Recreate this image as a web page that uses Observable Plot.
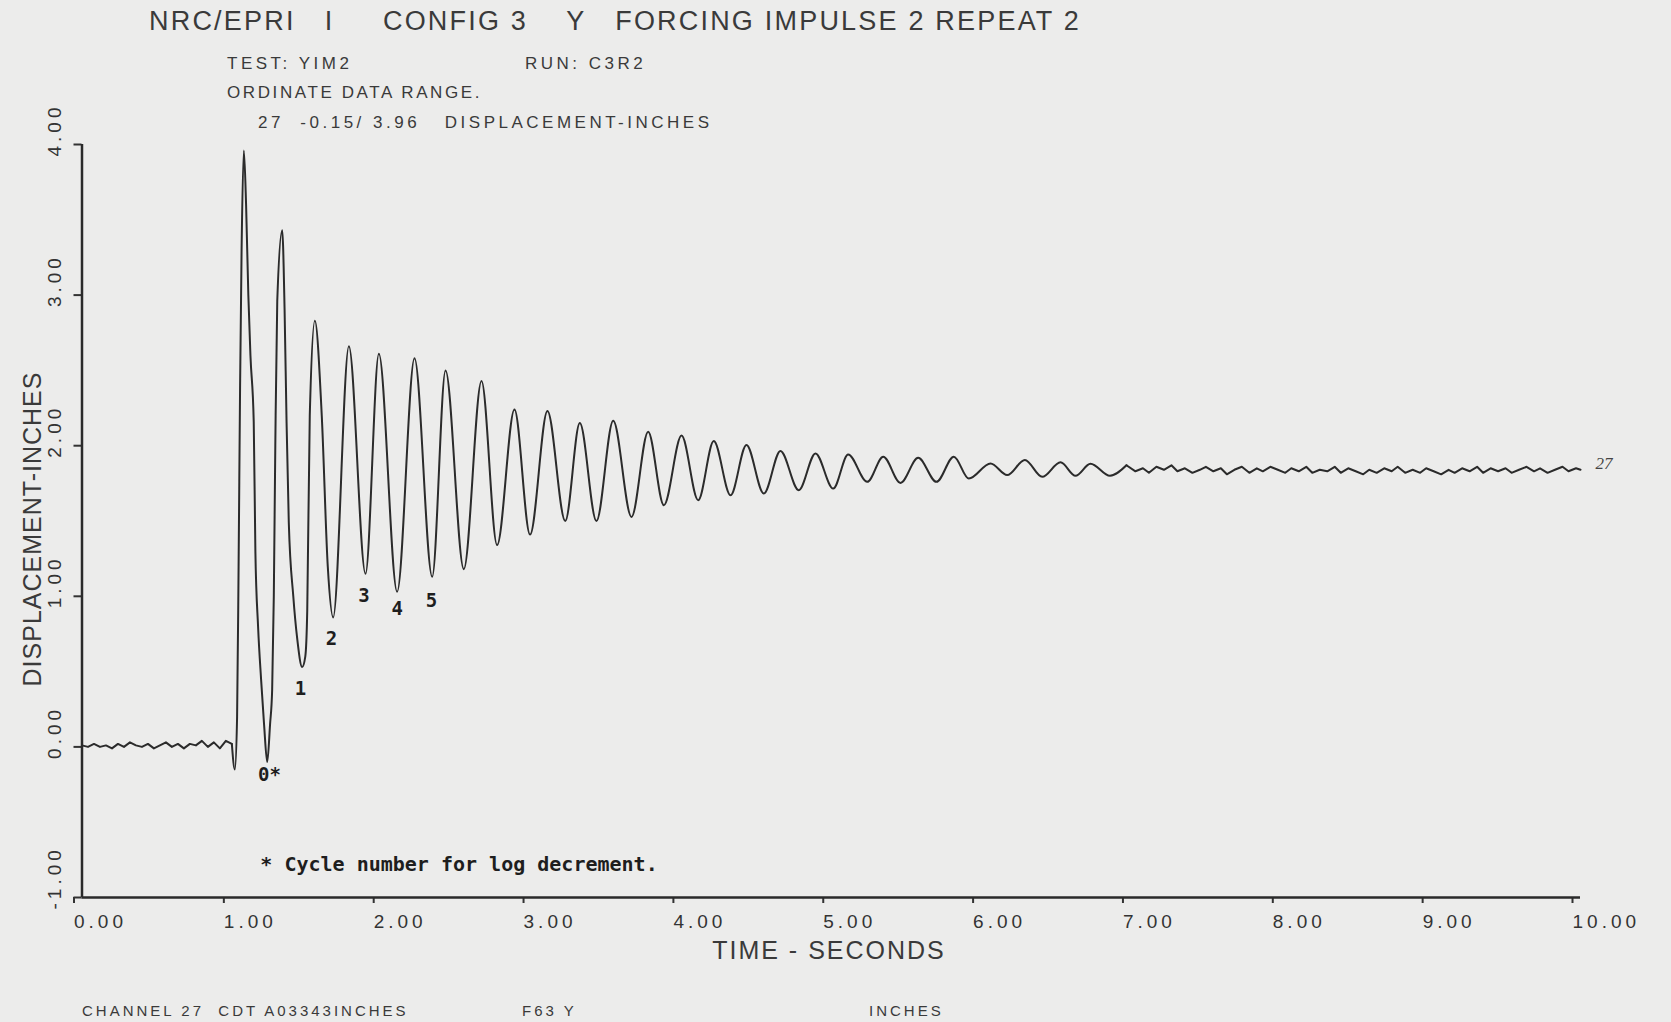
<!DOCTYPE html>
<html>
<head>
<meta charset="utf-8">
<script src="https://cdn.jsdelivr.net/npm/d3@7"></script>
<script src="https://cdn.jsdelivr.net/npm/@observablehq/plot@0.6"></script>
<style>
  html, body { margin: 0; padding: 0; background: #ececeb; }
  #page { position: relative; width: 1671px; height: 1022px; overflow: hidden; background: #ececeb;
          font-family: "Liberation Sans", Arial, sans-serif; color: #3a3a3a; }
  .t { position: absolute; white-space: pre; line-height: 1; }
  #chart { position: absolute; left: 0; top: 0; }
  g[aria-label="x-axis tick label"] text, g[aria-label="y-axis tick label"] text { letter-spacing: 4px; }
</style>
</head>
<body>
<div id="page">
  <div id="chart"></div>
  <div class="t" style="left:149px;top:8px;font-size:27px;letter-spacing:2.2px;">NRC/EPRI   I     CONFIG 3    Y   FORCING IMPULSE 2 REPEAT 2</div>
  <div class="t" style="left:227px;top:55px;font-size:17px;letter-spacing:3.5px;">TEST: YIM2</div>
  <div class="t" style="left:525px;top:55px;font-size:17px;letter-spacing:3.5px;">RUN: C3R2</div>
  <div class="t" style="left:227px;top:84px;font-size:17px;letter-spacing:2.6px;">ORDINATE DATA RANGE.</div>
  <div class="t" style="left:258px;top:114px;font-size:17px;letter-spacing:3.5px;">27  -0.15/ 3.96   DISPLACEMENT-INCHES</div>
  <div class="t" style="left:32px;top:529px;font-size:25px;letter-spacing:1px;transform:translate(-50%,-50%) rotate(-90deg);">DISPLACEMENT-INCHES</div>
  <div class="t" style="left:829px;top:950px;font-size:25px;letter-spacing:2px;transform:translate(-50%,-50%);">TIME - SECONDS</div>
  <div class="t" style="left:82px;top:1003px;font-size:15px;letter-spacing:3px;">CHANNEL 27  CDT A03343INCHES</div>
  <div class="t" style="left:522px;top:1003px;font-size:15px;letter-spacing:3px;">F63 Y</div>
  <div class="t" style="left:869px;top:1003px;font-size:15px;letter-spacing:3px;">INCHES</div>
</div>
<script>
// ---- data ----
const time = [
  0.00,0.04,0.08,0.12,0.16,0.20,0.24,0.28,0.32,0.36,0.40,0.44,0.48,0.52,0.56,0.60,0.64,0.68,0.72,0.76,0.80,0.84,0.88,0.92,0.96,1.00,
  1.02,1.035,1.045,1.055,1.065,1.08,1.095,1.11,1.124,1.146,1.157,1.175,1.195,1.215,1.236,
  1.255,1.269,1.28,1.29,1.303,1.336,1.352,1.365,1.38,1.41,1.436,1.469,
  1.49,1.503,1.52,1.554,1.60,1.64,1.676,
  1.781,1.892,1.981,2.103,2.219,2.337,2.426,2.548,2.666,2.77,2.886,2.99,3.106,3.225,
  3.322,3.433,3.545,3.667,3.778,3.883,4.001,4.112,4.216,4.328,4.434,4.55,4.661,4.783,
  4.895,5.013,5.113,5.24,5.347,5.462,5.58,5.702,5.818,5.918,6.063,6.174,6.292,6.408,
  6.53,6.63,6.73,6.86,6.97,
  7.03,7.08,7.12,7.17,7.22,7.27,7.31,7.36,7.41,7.46,7.50,7.55,7.60,7.64,7.69,7.74,7.79,7.84,7.88,7.93,7.98,
  8.03,8.07,8.12,8.17,8.21,8.26,8.31,8.36,8.40,8.45,8.50,8.55,8.59,8.64,8.69,8.74,8.78,8.83,8.88,8.93,8.97,
  9.02,9.07,9.12,9.16,9.21,9.26,9.31,9.35,9.40,9.45,9.50,9.54,9.59,9.64,9.69,9.73,9.78,9.83,9.88,9.92,9.97,10.00
];
const displacement = [
  0.01,0.00,0.02,0.00,0.01,-0.01,0.02,0.00,0.03,0.01,0.00,0.02,-0.01,0.01,0.03,0.00,0.02,-0.01,0.02,0.01,0.04,0.00,0.03,-0.01,0.04,0.02,
  -0.15,0.20,1.20,2.40,3.30,3.96,3.60,3.00,2.60,2.16,1.30,0.80,0.45,0.15,-0.10,
  0.15,0.38,1.00,2.00,2.96,3.43,2.90,2.16,1.49,1.00,0.72,0.53,
  0.60,0.90,2.20,2.83,2.20,1.20,0.86,
  2.66,1.15,2.61,1.03,2.58,1.13,2.50,1.18,2.43,1.34,2.24,1.41,2.23,1.50,
  2.15,1.50,2.165,1.527,2.093,1.605,2.067,1.638,2.031,1.671,2.005,1.682,1.965,1.705,
  1.949,1.715,1.942,1.76,1.927,1.753,1.92,1.76,1.927,1.782,1.882,1.805,1.905,1.793,
  1.89,1.80,1.88,1.80,1.87,
  1.83,1.85,1.82,1.86,1.84,1.87,1.83,1.85,1.82,1.84,1.86,1.83,1.85,1.81,1.84,1.86,1.82,1.85,1.83,1.86,1.84,
  1.82,1.85,1.83,1.86,1.82,1.84,1.83,1.86,1.82,1.85,1.83,1.81,1.84,1.82,1.85,1.83,1.86,1.82,1.84,1.82,1.85,
  1.83,1.81,1.84,1.82,1.85,1.83,1.86,1.82,1.85,1.83,1.85,1.82,1.84,1.86,1.83,1.85,1.82,1.84,1.86,1.83,1.85,1.84
];
const xTicks = [0,1,2,3,4,5,6,7,8,9,10];
const yTicks = [-1,0,1,2,3,4];
const cycleLabels = ["0*","1","2","3","4","5"];
const cycleX = [1.251,1.458,1.665,1.881,2.103,2.332];
const cycleY = [-0.185,0.382,0.72,1.005,0.915,0.971];
const noteText = ["* Cycle number for log decrement."];
const noteX = [1.19];
const noteY = [-0.78];
const channelText = ["27"];
const channelX = [10.1];
const channelY = [1.883];

const series = time.map((t, i) => ({t, v: displacement[i]}));
const oscillation = series.filter(d => d.t >= 1.0 && d.t <= 6.97);
const before = series.filter(d => d.t <= 1.0);
const tail = series.filter(d => d.t >= 6.97);

const lineStyle = {x: "t", y: "v", stroke: "#2b2b2b", strokeWidth: 2};

const chart = Plot.plot({
  width: 1671,
  height: 1022,
  marginLeft: 81.5,
  marginRight: 91,
  marginTop: 144,
  marginBottom: 125,
  x: {domain: [0, 10]},
  y: {domain: [-1, 4]},
  style: {background: "transparent", fontFamily: "Liberation Sans, Arial, sans-serif", fontSize: "19px", color: "#333"},
  marks: [
    Plot.axisX({ticks: xTicks, tickFormat: d => d.toFixed(2), tickSize: 6, tickPadding: 11, textAnchor: "start", dx: -8, strokeWidth: 2, label: null}),
    Plot.axisY({ticks: yTicks, tickFormat: () => "", tickSize: 8, strokeWidth: 2, label: null}),
    Plot.axisY({ticks: yTicks, tickFormat: d => d.toFixed(2), tickSize: 0, tickPadding: 27.5, tickRotate: -90, textAnchor: "start", lineAnchor: "middle", dy: 12, label: null}),
    Plot.ruleX([0], {stroke: "#2a2a2a", strokeWidth: 2.5}),
    Plot.ruleY([-1], {stroke: "#2a2a2a", strokeWidth: 2.5}),
    Plot.line(before, {...lineStyle, curve: "linear"}),
    Plot.line(oscillation, {...lineStyle, curve: "monotone-x"}),
    Plot.line(tail, {...lineStyle, curve: "linear"}),
    Plot.text(cycleLabels, {x: (d, i) => cycleX[i], y: (d, i) => cycleY[i], text: d => d, fontFamily: "DejaVu Sans Mono", fontWeight: "bold", fontSize: 19, fill: "#1e1e1e"}),
    Plot.text(noteText, {x: (d, i) => noteX[i], y: (d, i) => noteY[i], text: d => d, textAnchor: "start", fontFamily: "DejaVu Sans Mono", fontWeight: "bold", fontSize: 20, fill: "#1e1e1e"}),
    Plot.text(channelText, {x: (d, i) => channelX[i], y: (d, i) => channelY[i], text: d => d, textAnchor: "start", fontFamily: "Liberation Serif", fontStyle: "italic", fontSize: 17, fill: "#444"})
  ]
});
document.getElementById("chart").appendChild(chart);
</script>
</body>
</html>
